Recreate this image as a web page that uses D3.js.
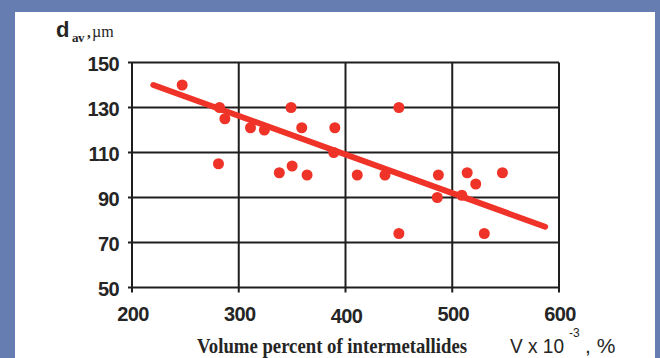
<!DOCTYPE html>
<html>
<head>
<title>grain size vs intermetallides</title>
<script src="https://d3js.org/d3.v7.min.js"></script>
<style>
  body { margin: 0; background: #657db0; }
  svg { display: block; }
</style>
</head>
<body>
<svg id="chart" width="660" height="358"></svg>
<script>
// data
const volX = [247, 282, 287, 281, 311, 324, 349, 338, 350, 359, 364, 390, 389, 411, 437, 450, 487, 486, 450, 509, 514, 522, 547, 530];
const dAv  = [140, 130, 125, 105, 121, 120, 130, 101, 104, 121, 100, 121, 110, 100, 100, 130, 100,  90,  74,  91, 101,  96, 101,  74];
// trend line end points
const fitX = [220, 587];
const fitY = [140, 77];
const xTicks = [200, 300, 400, 500, 600];
const yTicks = [50, 70, 90, 110, 130, 150];

const svg = d3.select("#chart");

// blue frame + white panel
svg.append("rect").attr("width", 660).attr("height", 358).attr("fill", "#657db0");
svg.append("rect").attr("x", 15).attr("y", 12).attr("width", 640).attr("height", 346).attr("fill", "#ffffff");

const x = d3.scaleLinear().domain([200, 600]).range([132, 559]);
const y = d3.scaleLinear().domain([50, 150]).range([287.5, 62.5]);

const ink = "#1e1e1e";
const red = "#ef3328";

// grid
svg.append("g").selectAll("line").data(xTicks).join("line")
  .attr("x1", d => x(d)).attr("x2", d => x(d))
  .attr("y1", y(150)).attr("y2", y(50) + 5)
  .attr("stroke", ink).attr("stroke-width", 2);
svg.append("g").selectAll("line").data(yTicks).join("line")
  .attr("x1", x(200) - 4).attr("x2", x(600))
  .attr("y1", d => y(d)).attr("y2", d => y(d))
  .attr("stroke", ink).attr("stroke-width", 2);

// tick labels
svg.append("g").selectAll("text").data(yTicks).join("text")
  .attr("x", x(200) - 13).attr("y", d => y(d)).attr("dy", "0.4em")
  .attr("text-anchor", "end")
  .attr("font-family", "Liberation Sans, Arial, sans-serif").attr("font-weight", "bold")
  .attr("font-size", 20).attr("letter-spacing", -0.6).attr("fill", "#252525")
  .text(d => d);
svg.append("g").selectAll("text").data(xTicks).join("text")
  .attr("x", d => x(d) + 1).attr("y", d => d === 400 ? 323 : 321)
  .attr("text-anchor", "middle")
  .attr("font-family", "Liberation Sans, Arial, sans-serif").attr("font-weight", "bold")
  .attr("font-size", 20).attr("letter-spacing", -0.6).attr("fill", "#252525")
  .text(d => d);

// trend line
svg.append("line")
  .attr("x1", x(fitX[0])).attr("y1", y(fitY[0]))
  .attr("x2", x(fitX[1])).attr("y2", y(fitY[1]))
  .attr("stroke", red).attr("stroke-width", 6).attr("stroke-linecap", "round");

// points
svg.append("g").selectAll("circle").data(volX).join("circle")
  .attr("cx", d => x(d)).attr("cy", (d, i) => y(dAv[i]))
  .attr("r", 5.5).attr("fill", red);

// y title: d_av , µm
const yt = svg.append("g").attr("fill", "#252525");
yt.append("text").attr("x", 56).attr("y", 37)
  .attr("font-family", "Liberation Sans, Arial, sans-serif").attr("font-weight", "bold")
  .attr("font-size", 22).text("d");
yt.append("text").attr("x", 72).attr("y", 42)
  .attr("font-family", "Liberation Serif, Times New Roman, serif").attr("font-weight", "bold")
  .attr("font-size", 13).attr("letter-spacing", -0.5).text("av");
yt.append("text").attr("x", 87).attr("y", 37)
  .attr("font-family", "Liberation Serif, Times New Roman, serif").attr("font-weight", "bold")
  .attr("font-size", 15).text(",");
yt.append("text").attr("x", 92).attr("y", 37)
  .attr("font-family", "Liberation Serif, Times New Roman, serif")
  .attr("font-size", 16).text("µm");

// x title
svg.append("text").attr("x", 197).attr("y", 353)
  .attr("font-family", "Liberation Serif, Times New Roman, serif").attr("font-weight", "bold")
  .attr("font-size", 21).attr("fill", "#252525")
  .attr("textLength", 270).attr("lengthAdjust", "spacingAndGlyphs")
  .text("Volume percent of intermetallides");

const unit = svg.append("g").attr("fill", "#252525")
  .attr("font-family", "Liberation Sans, Arial, sans-serif");
unit.append("text").attr("x", 510).attr("y", 353).attr("font-size", 21)
  .attr("textLength", 54).attr("lengthAdjust", "spacingAndGlyphs").text("V x 10");
unit.append("text").attr("x", 569).attr("y", 337).attr("font-size", 12).text("-3");
unit.append("text").attr("x", 585).attr("y", 353).attr("font-size", 21).text(", %");
</script>
</body>
</html>
